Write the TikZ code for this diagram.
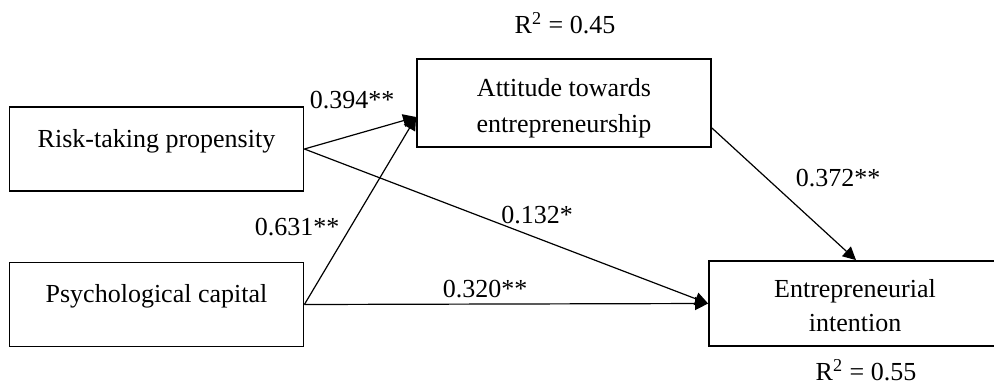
\documentclass[tikz,border=0pt]{standalone}
\usepackage{fontspec}
\setmainfont{Liberation Serif}
\usetikzlibrary{arrows.meta}
\tikzset{
  box/.style={draw, line width=0.9pt, rectangle, minimum width=147pt, minimum height=42pt, inner sep=0pt},
  txt/.style={anchor=base, inner sep=0pt, align=center, font=\fontsize{13}{17.5}\selectfont},
  path/.style={line width=0.6pt, -{Triangle[length=6.5pt,width=6.5pt]}}
}
\begin{document}
\begin{tikzpicture}[x=0.5pt,y=-0.5pt]
\useasboundingbox (0,0) rectangle (994,386);
% boxes
\node[box] (risk) at (156.5,149) {};
\node[box] (psych) at (156.5,304.5) {};
\node[box, minimum height=44pt] (att) at (564,103) {};
\node[box, minimum height=42.5pt] (ent) at (856,303.5) {};
% box texts
\node[txt] (riskT) at (156.5,147) {Risk-taking propensity};
\node[txt] (psychT) at (156.5,302) {Psychological capital};
\node[txt] (attT1) at (564,96) {Attitude towards};
\node[txt] (attT2) at (564,132) {entrepreneurship};
\node[txt] (entT1) at (855,297) {Entrepreneurial};
\node[txt] (entT2) at (855,331) {intention};
% connector ends
\coordinate (attIn) at ([yshift=-7pt]att.west);
\coordinate (attOut) at ([yshift=-12.5pt]att.east);
% connectors
\draw[path] (risk.east) -- (attIn);
\draw[path] (psych.east) -- (attIn);
\draw[path] (risk.east) -- (ent.west);
\draw[path] (psych.east) -- (ent.west);
\draw[path] (attOut) -- (ent.north);
% coefficient labels
\node[txt] (l1) at (352,108) {0.394**};
\node[txt] (l2) at (297,235) {0.631**};
\node[txt] (l3) at (537,223) {0.132*};
\node[txt] (l4) at (485,297) {0.320**};
\node[txt] (l5) at (838,186) {0.372**};
\node[txt] (r1) at (565,33) {R\textsuperscript{2} = 0.45};
\node[txt] (r2) at (866,380) {R\textsuperscript{2} = 0.55};
\end{tikzpicture}
\end{document}
